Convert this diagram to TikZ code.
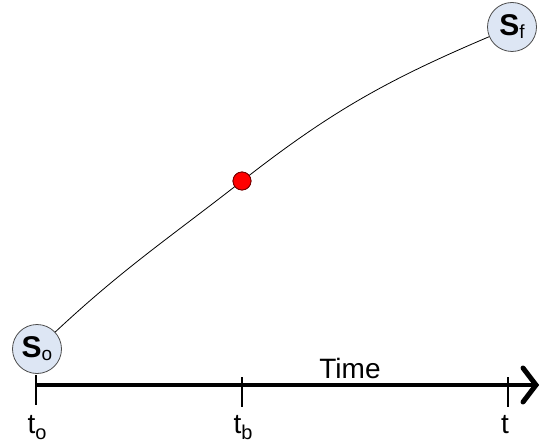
\documentclass[tikz,border=0pt]{standalone}
\usepackage{fontspec}
\setmainfont{Liberation Sans}
\definecolor{statefill}{RGB}{221,230,244}
\begin{document}
\begin{tikzpicture}[x=1pt,y=1pt,
  state/.style={circle,draw=black!70,fill=statefill,line width=0.8pt,minimum size=49pt,inner sep=0pt},
  reddot/.style={circle,draw=red!45!black,fill=red,line width=0.8pt,minimum size=18pt,inner sep=0pt},
  tickmark/.style={line width=1.2pt},
  lbl/.style={font=\fontsize{28}{28}\selectfont,inner sep=0pt,anchor=base}]
\useasboundingbox (0,0) rectangle (540,445);
\node[state] (so) at (37,96) {\fontsize{30}{30}\selectfont\textbf{S}\raisebox{-3pt}{\fontsize{19}{19}\selectfont o}};
\node[state] (sf) at (512,418) {\fontsize{30}{30}\selectfont\textbf{S}\raisebox{-3pt}{\fontsize{19}{19}\selectfont f}};
\node[reddot] (dot) at (242,264) {};
\draw[line width=0.8pt] (so) to[out=43,in=218] (dot.center) to[out=38,in=203] (sf);
\node[reddot] at (dot) {};
% axis
\coordinate (a0) at (36,60);
\coordinate (a1) at (536,60);
\draw[line width=4.5pt] (a0) -- (a1);
\coordinate (c1) at (523,77);
\coordinate (c2) at (523,43);
\draw[line width=5pt,line cap=round,line join=miter] (c1) -- (a1) -- (c2);
\coordinate (tb) at (242,60);
\coordinate (tt) at (508,60);
\draw[tickmark] ([yshift=10pt]a0) -- ([yshift=-20pt]a0);
\draw[tickmark] ([yshift=8pt]tb) -- ([yshift=-22pt]tb);
\draw[tickmark] ([yshift=8pt]tt) -- ([yshift=-22pt]tt);
\node[lbl] (time) at (350,67) {Time};
\node[lbl] (lto) at (37,12) {t\raisebox{-6pt}{\fontsize{20}{20}\selectfont o}};
\node[lbl] (ltb) at (243,12) {t\raisebox{-6pt}{\fontsize{20}{20}\selectfont b}};
\node[lbl] (ltt) at (505,12) {t};
\end{tikzpicture}
\end{document}
